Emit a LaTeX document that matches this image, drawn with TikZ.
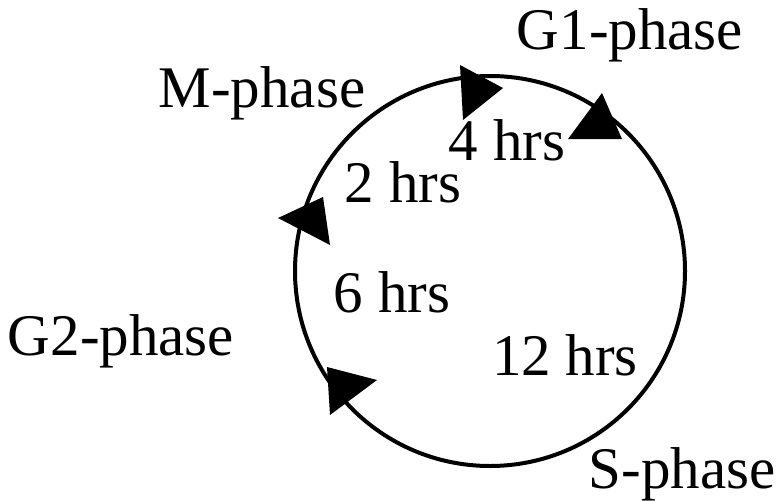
\documentclass[tikz,border=0pt]{standalone}
\usepackage{fontspec}
\setmainfont{Liberation Serif}

\begin{document}
\begin{tikzpicture}[x=1pt, y=-1pt, every node/.style={font=\fontsize{59}{62}\selectfont, inner sep=0pt, anchor=base}, tip/.style={fill=black}]
	\useasboundingbox (0,0) rectangle (783,500);
	\coordinate (O) at (490,271);
	\draw[line width=4pt] (O) circle[radius=195];
	% arrowheads on the cycle
	\fill[tip] (460,65) -- (503,88) -- (463,120) -- cycle;
	\fill[tip] (602,93) -- (622,139) -- (568,139) -- cycle;
	\fill[tip] (278,218) -- (323,197) -- (330,245) -- cycle;
	\fill[tip] (327,367) -- (377,380) -- (330,415) -- cycle;
	% phases
	\node (M) at (262,107) {M-phase};
	\node (G1) at (630,50) {G1-phase};
	\node (G2) at (121,355) {G2-phase};
	\node (S) at (682,488) {S-phase};
	% durations
	\node (tM) at (403,202) {2 hrs};
	\node (tG1) at (507,160) {4 hrs};
	\node (tG2) at (392,312) {6 hrs};
	\node (tS) at (565,375) {12 hrs};
\end{tikzpicture}
\end{document}
